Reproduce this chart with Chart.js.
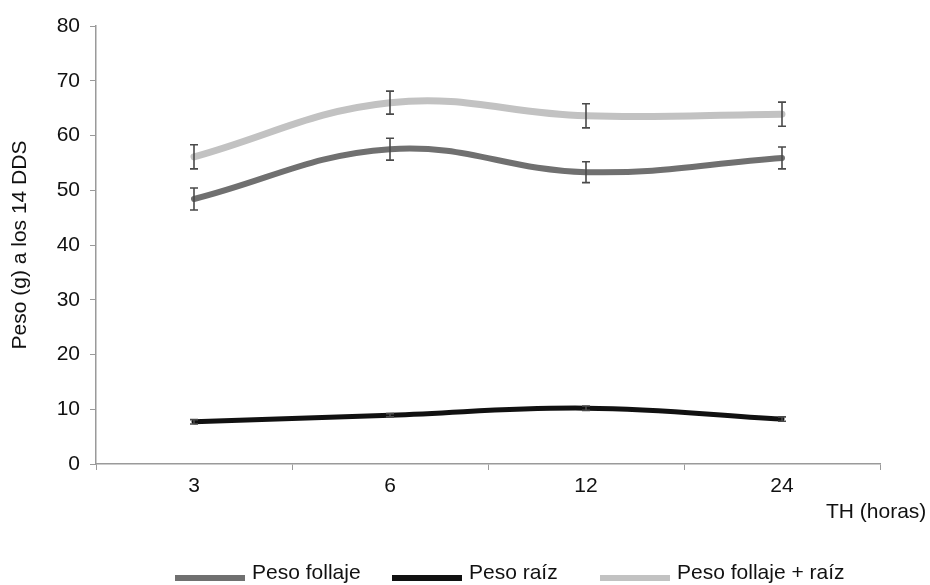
<!DOCTYPE html>
<html>
<head>
<meta charset="utf-8">
<script src="https://cdn.jsdelivr.net/npm/chart.js@4/dist/chart.umd.min.js"></script>
<style>
  html, body { margin: 0; padding: 0; background: #ffffff; }
  #wrap { width: 930px; height: 585px; }
</style>
</head>
<body>
<div id="wrap"><canvas id="c" width="930" height="585"></canvas></div>
<script>
// Hours of treatment (x categories)
const categories = ['3', '6', '12', '24'];

// Foliage weight (g) and its standard error
const pesoFollaje = [48.4, 57.5, 53.3, 55.9];
const pesoFollajeErr = [2.0, 2.0, 1.9, 2.0];

// Root weight (g) and its standard error
const pesoRaiz = [7.7, 8.9, 10.2, 8.2];
const pesoRaizErr = [0.4, 0.3, 0.4, 0.4];

// Foliage + root weight (g) and its standard error
const pesoTotal = [56.1, 66.0, 63.6, 63.9];
const pesoTotalErr = [2.2, 2.1, 2.2, 2.2];

// Y axis range
const yMin = 0;
const yMax = 80;
const yStep = 10;

const FONT = "'Liberation Sans', Arial, sans-serif";
const AXIS_GREY = '#9a9a9a';

// Vertical error bars with caps, drawn from each dataset's `errors` array
const errorBars = {
  id: 'errorBars',
  afterDatasetsDraw(chart) {
    const ctx = chart.ctx;
    const xs = chart.scales.x, ys = chart.scales.y;
    ctx.save();
    ctx.strokeStyle = '#4a4a4a';
    ctx.lineWidth = 1.6;
    chart.data.datasets.forEach(ds => {
      if (!ds.errors) return;
      ds.data.forEach((v, i) => {
        const x = xs.getPixelForValue(i);
        const yTop = ys.getPixelForValue(v + ds.errors[i]);
        const yBot = ys.getPixelForValue(v - ds.errors[i]);
        const cap = 4;
        ctx.beginPath();
        ctx.moveTo(x, yTop); ctx.lineTo(x, yBot);
        ctx.moveTo(x - cap, yTop); ctx.lineTo(x + cap, yTop);
        ctx.moveTo(x - cap, yBot); ctx.lineTo(x + cap, yBot);
        ctx.stroke();
      });
    });
    ctx.restore();
  }
};

// X axis title at the lower right and a line-swatch legend along the bottom
const extras = {
  id: 'extras',
  afterDraw(chart) {
    const ctx = chart.ctx;
    ctx.save();
    ctx.fillStyle = '#111111';
    ctx.font = '21px ' + FONT;
    ctx.textBaseline = 'middle';
    ctx.textAlign = 'left';
    ctx.fillText('TH (horas)', 826, 512);

    const starts = [175, 392, 600];
    chart.data.datasets.forEach((ds, i) => {
      const x0 = starts[i];
      ctx.fillStyle = ds.borderColor;
      ctx.fillRect(x0, 575, 70, 6);
      ctx.fillStyle = '#111111';
      ctx.fillText(ds.label, x0 + 77, 573);
    });
    ctx.restore();
  }
};

const lineStyle = (color, width) => ({
  borderColor: color,
  backgroundColor: color,
  borderWidth: width,
  borderCapStyle: 'round',
  borderJoinStyle: 'round',
  pointRadius: 0,
  pointHoverRadius: 0,
  tension: 0.4,
  fill: false
});

new Chart(document.getElementById('c'), {
  type: 'line',
  data: {
    labels: categories,
    datasets: [
      Object.assign({ label: 'Peso follaje', data: pesoFollaje, errors: pesoFollajeErr }, lineStyle('#707070', 6)),
      Object.assign({ label: 'Peso raíz', data: pesoRaiz, errors: pesoRaizErr }, lineStyle('#111111', 5)),
      Object.assign({ label: 'Peso follaje + raíz', data: pesoTotal, errors: pesoTotalErr }, lineStyle('#c2c2c2', 7))
    ]
  },
  options: {
    responsive: false,
    devicePixelRatio: 1,
    animation: false,
    layout: { padding: { left: 0, top: 26, right: 50, bottom: 0 } },
    plugins: {
      legend: { display: false },
      tooltip: { enabled: false }
    },
    scales: {
      x: {
        type: 'category',
        offset: true,
        grid: { display: true, offset: true, drawOnChartArea: false, drawTicks: true, tickLength: 6, color: AXIS_GREY, lineWidth: 1 },
        border: { display: true, color: AXIS_GREY, width: 1.5 },
        ticks: { color: '#111111', font: { family: FONT, size: 21 }, padding: 4, maxRotation: 0 },
        afterFit(scale) { scale.height = 121; }
      },
      y: {
        min: yMin,
        max: yMax,
        ticks: { stepSize: yStep, color: '#111111', font: { family: FONT, size: 21 }, padding: 10 },
        grid: { display: true, drawOnChartArea: false, drawTicks: true, tickLength: 6, color: AXIS_GREY, lineWidth: 1 },
        border: { display: true, color: AXIS_GREY, width: 1.5 },
        title: {
          display: true,
          text: 'Peso (g) a los 14 DDS',
          color: '#111111',
          font: { family: FONT, size: 21 },
          padding: { top: 8, bottom: 0 }
        },
        afterFit(scale) { scale.width = 96; }
      }
    }
  },
  plugins: [errorBars, extras]
});
</script>
</body>
</html>
